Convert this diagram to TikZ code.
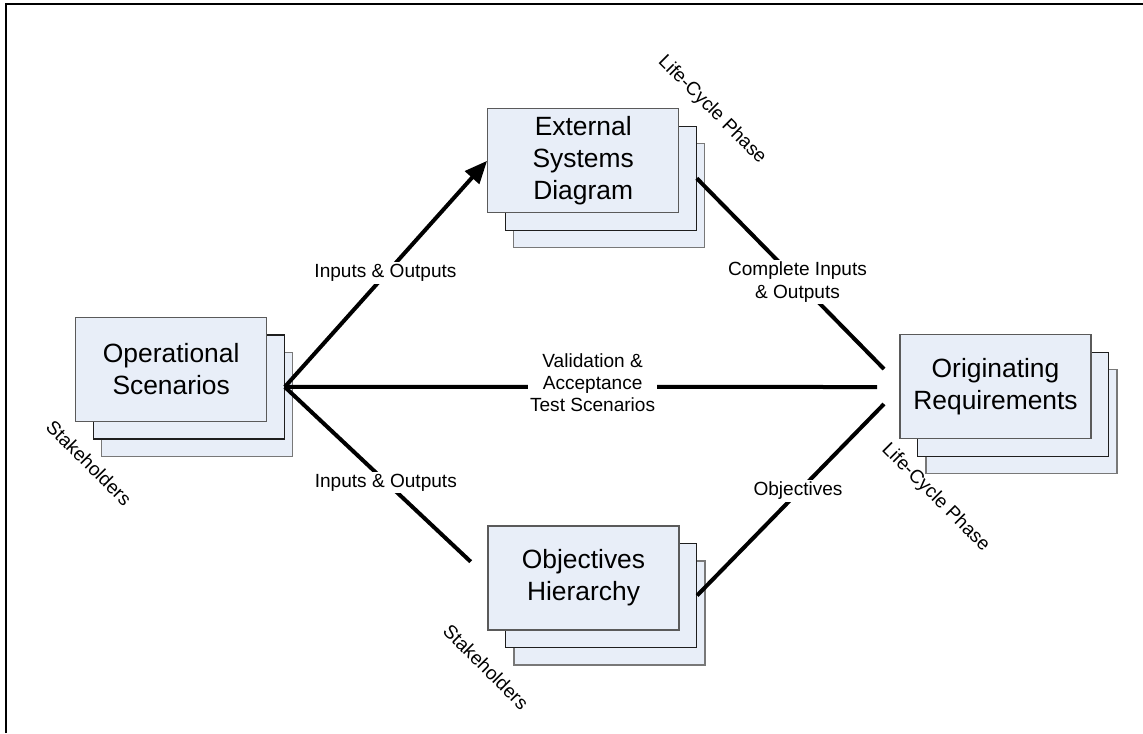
\documentclass[tikz,border=0pt]{standalone}
\usepackage{fontspec}
\setmainfont{Liberation Sans}
\usetikzlibrary{arrows.meta}

\definecolor{docfill}{RGB}{232,238,248}
\definecolor{edgefront}{RGB}{90,90,90}
\definecolor{edgemid}{RGB}{30,30,30}
\definecolor{edgeback}{RGB}{120,120,120}

\tikzset{
  docbase/.style={rectangle, fill=docfill, line width=0.9pt, inner sep=0pt,
    minimum width=143.25pt, minimum height=78pt},
  docfront/.style={docbase, draw=edgefront, align=center,
    font=\fontsize{19.8}{24.2}\selectfont},
  docmid/.style={docbase, draw=edgemid},
  docback/.style={docbase, draw=edgeback},
  flow/.style={line width=3pt, black},
  flowarrow/.style={flow, -{Triangle[length=17pt,width=14pt]}},
  flowlabel/.style={fill=white, inner sep=1.5pt, align=center,
    font=\fontsize{14.3}{16.6}\selectfont},
  sidelabel/.style={rotate=-45, inner sep=0pt,
    font=\fontsize{14.3}{16.6}\selectfont},
}

% a stack of three document sheets: #1 name, (#2,#3) front centre, #4 text
\newcommand{\docstack}[4]{%
  \node[docback] (#1back) at (#2+26,#3+35) {};
  \node[docmid]  (#1mid)  at (#2+17.5,#3+17.5) {};
  \node[docfront] (#1) at (#2,#3) {#4};
}

\begin{document}
\begin{tikzpicture}[x=0.75pt,y=-0.75pt]
  \useasboundingbox (0,0) rectangle (1143,733);

  % page frame
  \draw[line width=0.8pt] (6,733) -- (6,4) -- (1143,4);

  % document stacks
  \docstack{ops}{171.2}{369.4}{Operational\\Scenarios}
  \docstack{esd}{583.2}{160.8}{External\\Systems\\Diagram}
  \docstack{req}{995.5}{386.7}{Originating\\Requirements}
  \docstack{obj}{583.5}{578}{Objectives\\Hierarchy}

  % free ends of the connectors
  \coordinate (reqtop) at (884,369);
  \coordinate (reqmid) at (877,387);
  \coordinate (reqbot) at (884,404);
  \coordinate (objin)  at (470.7,561.7);

  % connectors
  \draw[flowarrow] (opsmid.east) -- (esd.west);
  \draw[flow] (opsmid.east) -- (reqmid);
  \draw[flow] (opsmid.east) -- (objin);
  \draw[flow] (esdmid.east) -- (reqtop);
  \draw[flow] (objmid.east) -- (reqbot);

  % connector labels
  \node[flowlabel] (lio1) at (385.5,273) {Inputs \& Outputs};
  \node[flowlabel] (lio2) at (385.8,482.7) {Inputs \& Outputs};
  \node[flowlabel] (lcio) at (797.5,282) {Complete Inputs\\\& Outputs};
  \node[flowlabel] (lval) at (592.6,383) {Validation \&\\Acceptance\\Test Scenarios};
  \node[flowlabel] (lobj) at (798,490.7) {Objectives};

  % side labels
  \node[sidelabel] (lcp1) at (712,110) {Life-Cycle Phase};
  \node[sidelabel] (lcp2) at (935.5,497.5) {Life-Cycle Phase};
  \node[sidelabel] (lsh1) at (89,463) {Stakeholders};
  \node[sidelabel] (lsh2) at (486,667) {Stakeholders};
\end{tikzpicture}
\end{document}
